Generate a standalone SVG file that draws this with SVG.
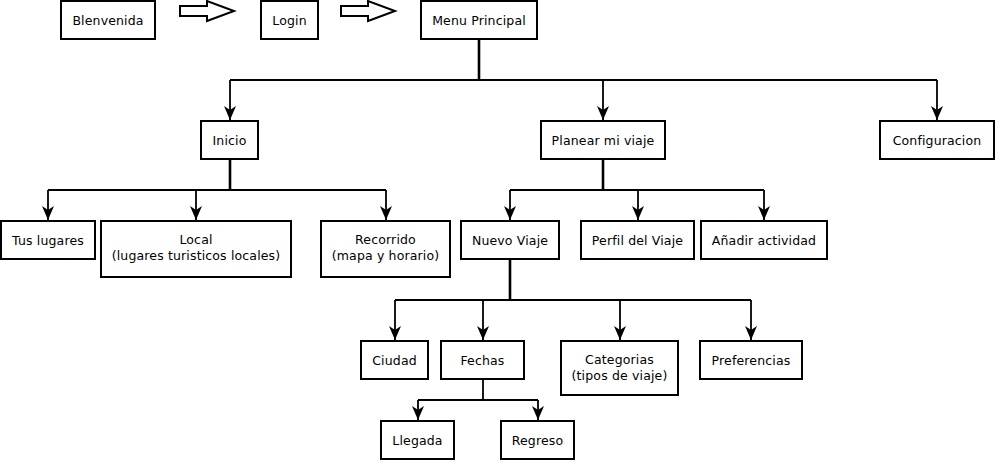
<svg xmlns="http://www.w3.org/2000/svg" width="995" height="460" viewBox="0 0 995 460">
<style>
.box{fill:#fff;stroke:#000;stroke-width:2}
text{font-family:"DejaVu Sans",sans-serif;font-size:12.5px;letter-spacing:0.15px;fill:#000;text-anchor:middle;dominant-baseline:central}
.c{fill:none;stroke:#000;stroke-width:1.8}
.t{fill:none;stroke:#000;stroke-width:2.6}
.blk{fill:#fff;stroke:#000;stroke-width:2}
</style>
<defs>
<marker id="ah" viewBox="0 0 14 12" refX="14" refY="6" markerWidth="14" markerHeight="12" markerUnits="userSpaceOnUse" orient="auto">
<path d="M0,0 L14,6 L0,12 L4,6 Z" fill="#000"/>
</marker>
</defs>
<rect width="995" height="460" fill="#fff"/>
<g id="connectors">
<path class="blk" d="M180,6 H207 V1 L234,11 L207,21 V16 H180 Z"/>
<path class="blk" d="M341,6 H368 V1 L395,11 L368,21 V16 H341 Z"/>
<path class="t" d="M479,39 V80"/>
<path class="c" d="M230,80 H937"/>
<path class="c" d="M230,80 V120" marker-end="url(#ah)"/>
<path class="c" d="M603,80 V120" marker-end="url(#ah)"/>
<path class="c" d="M937,80 V120" marker-end="url(#ah)"/>
<path class="t" d="M230,159 V190"/>
<path class="c" d="M48,190 H386"/>
<path class="c" d="M48,190 V220" marker-end="url(#ah)"/>
<path class="c" d="M196,190 V220" marker-end="url(#ah)"/>
<path class="c" d="M386,190 V220" marker-end="url(#ah)"/>
<path class="t" d="M603,159 V190"/>
<path class="c" d="M510,190 H764"/>
<path class="c" d="M510,190 V220" marker-end="url(#ah)"/>
<path class="c" d="M638,190 V220" marker-end="url(#ah)"/>
<path class="c" d="M764,190 V220" marker-end="url(#ah)"/>
<path class="t" d="M510,259 V300"/>
<path class="c" d="M395,300 H751"/>
<path class="c" d="M395,300 V340" marker-end="url(#ah)"/>
<path class="c" d="M483,300 V340" marker-end="url(#ah)"/>
<path class="c" d="M620,300 V340" marker-end="url(#ah)"/>
<path class="c" d="M751,300 V340" marker-end="url(#ah)"/>
<path class="c" d="M483,379 V400"/>
<path class="c" d="M418,400 H538"/>
<path class="c" d="M418,400 V420" marker-end="url(#ah)"/>
<path class="c" d="M538,400 V420" marker-end="url(#ah)"/>
</g>
<g id="bienvenida"><rect class="box" x="61" y="1" width="94" height="38"/><text x="108" y="20">Blenvenida</text></g>
<g id="login"><rect class="box" x="261" y="1" width="57" height="38"/><text x="289.5" y="20">Login</text></g>
<g id="menu"><rect class="box" x="421" y="1" width="116" height="38"/><text x="479" y="20">Menu Principal</text></g>
<g id="inicio"><rect class="box" x="201" y="121" width="57" height="38"/><text x="229.5" y="140">Inicio</text></g>
<g id="planear"><rect class="box" x="541" y="121" width="124" height="38"/><text x="603" y="140">Planear mi viaje</text></g>
<g id="config"><rect class="box" x="880" y="121" width="114" height="38"/><text x="937" y="140">Configuracion</text></g>
<g id="tuslugares"><rect class="box" x="1" y="221" width="94" height="38"/><text x="48" y="240">Tus lugares</text></g>
<g id="local"><rect class="box" x="101" y="221" width="190" height="56"/><text><tspan x="196" y="239">Local</tspan><tspan x="196" y="255">(lugares turisticos locales)</tspan></text></g>
<g id="recorrido"><rect class="box" x="321" y="221" width="129" height="56"/><text><tspan x="385.5" y="239">Recorrido</tspan><tspan x="385.5" y="255">(mapa y horario)</tspan></text></g>
<g id="nuevo"><rect class="box" x="461" y="221" width="98" height="38"/><text x="510" y="240">Nuevo Viaje</text></g>
<g id="perfil"><rect class="box" x="581" y="221" width="113" height="38"/><text x="637.5" y="240">Perfil del Viaje</text></g>
<g id="anadir"><rect class="box" x="701" y="221" width="126" height="38"/><text x="764" y="240">Añadir actividad</text></g>
<g id="ciudad"><rect class="box" x="361" y="341" width="67" height="38"/><text x="394.5" y="360">Ciudad</text></g>
<g id="fechas"><rect class="box" x="441" y="341" width="83" height="38"/><text x="482.5" y="360">Fechas</text></g>
<g id="categorias"><rect class="box" x="561" y="341" width="117" height="54"/><text><tspan x="619.5" y="359">Categorias</tspan><tspan x="619.5" y="375">(tipos de viaje)</tspan></text></g>
<g id="preferencias"><rect class="box" x="700" y="341" width="102" height="38"/><text x="751" y="360">Preferencias</text></g>
<g id="llegada"><rect class="box" x="381" y="421" width="73" height="38"/><text x="417.5" y="440">Llegada</text></g>
<g id="regreso"><rect class="box" x="501" y="421" width="73" height="38"/><text x="537.5" y="440">Regreso</text></g>
</svg>
